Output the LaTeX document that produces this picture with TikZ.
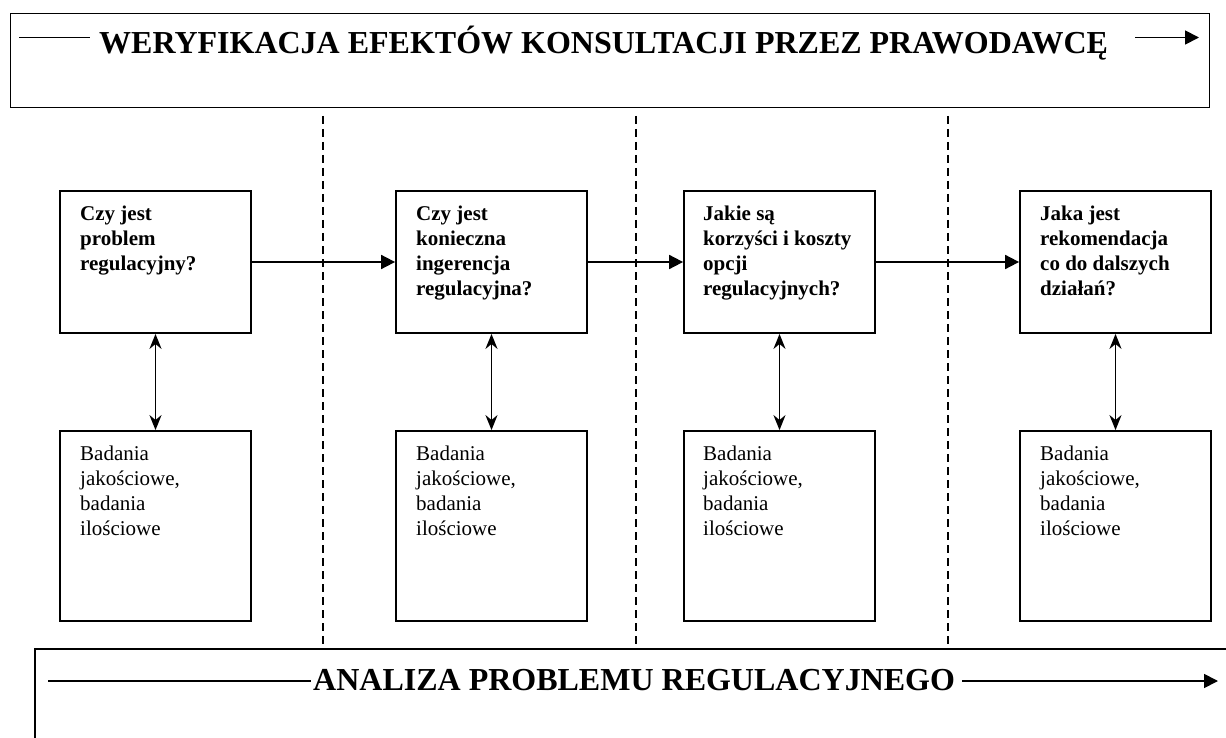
\documentclass[tikz,border=0pt]{standalone}
\usepackage{fontspec}
\setmainfont{Liberation Serif}
\usetikzlibrary{arrows.meta}
\begin{document}
\begin{tikzpicture}[x=1pt,y=-1pt,
  qbox/.style={draw, line width=1.8pt, minimum width=191pt, minimum height=142pt, inner sep=0pt},
  rbox/.style={draw, line width=1.8pt, minimum width=191pt, minimum height=190pt, inner sep=0pt},
  bigbox/.style={draw, line width=1.8pt, inner sep=0pt},
  qtext/.style={anchor=north west, inner sep=0pt, align=left, font=\fontsize{21}{25}\selectfont\bfseries},
  rtext/.style={anchor=north west, inner sep=0pt, align=left, font=\fontsize{21}{25}\selectfont},
  ttl/.style={anchor=base west, inner sep=0pt, font=\fontsize{32}{38}\selectfont\bfseries},
  conn/.style={line width=1.8pt},
  harrow/.style={conn, -{Triangle[length=14pt,width=14pt]}},
  varrow/.style={conn, {Stealth[length=15pt,width=12pt]}-{Stealth[length=15pt,width=12pt]}},
  sep/.style={line width=1.4pt, dash pattern=on 8pt off 5pt}
]
\useasboundingbox (0,0) rectangle (1226,738);

% top frame
\node[bigbox, minimum width=1199pt, minimum height=94pt] (topbox) at (610,60.5) {};
\node[ttl] (ttop) at (99,54) {WERYFIKACJA EFEKTÓW KONSULTACJI PRZEZ PRAWODAWCĘ};
\coordinate (tl1) at (19,37.5);
\coordinate (tl2) at (90,37.5);
\coordinate (tr1) at (1135,37.5);
\coordinate (tr2) at (1199,37.5);
\draw[conn] (tl1) -- (tl2);
\draw[harrow] (tr1) -- (tr2);

% bottom frame (cut by the page)
\coordinate (bb1) at (1228,649);
\coordinate (bb2) at (35,649);
\coordinate (bb3) at (35,740);
\draw[conn] (bb1) -- (bb2) -- (bb3);
\node[ttl] (tbot) at (313,690) {ANALIZA PROBLEMU REGULACYJNEGO};
\coordinate (bl1) at (48,681);
\coordinate (bl2) at (311,681);
\coordinate (br1) at (962,681);
\coordinate (br2) at (1218,681);
\draw[conn] (bl1) -- (bl2);
\draw[harrow] (br1) -- (br2);

% separators
\foreach \x/\n in {323/a,636/b,948/c}{
  \coordinate (s\n1) at (\x,116);
  \coordinate (s\n2) at (\x,645);
  \draw[sep] (s\n1) -- (s\n2);
}

% question boxes
\node[qbox] (q1) at (155.5,262) {};
\node[qbox] (q2) at (491.5,262) {};
\node[qbox] (q3) at (779.5,262) {};
\node[qbox] (q4) at (1115.5,262) {};

\node[qtext] (qt1) at (80,202.5) {\strut Czy jest\\problem\\regulacyjny?};
\node[qtext] (qt2) at (416,202.5) {\strut Czy jest\\konieczna\\ingerencja\\regulacyjna?};
\node[qtext] (qt3) at (703,202.5) {\strut Jakie są\\korzyści i koszty\\opcji\\regulacyjnych?};
\node[qtext] (qt4) at (1040,202.5) {\strut Jaka jest\\rekomendacja\\co do dalszych\\działań?};

% research boxes
\node[rbox] (r1) at (155.5,526) {};
\node[rbox] (r2) at (491.5,526) {};
\node[rbox] (r3) at (779.5,526) {};
\node[rbox] (r4) at (1115.5,526) {};

\foreach \i/\x in {1/80,2/416,3/703,4/1040}{
  \node[rtext] (rt\i) at (\x,442.5) {\strut Badania\\jakościowe,\\badania\\ilościowe};
}

% connectors
\draw[harrow] (q1) -- (q2);
\draw[harrow] (q2) -- (q3);
\draw[harrow] (q3) -- (q4);
\foreach \i in {1,2,3,4}{
  \draw[varrow] (q\i.south) -- (r\i.north);
}
\end{tikzpicture}
\end{document}
